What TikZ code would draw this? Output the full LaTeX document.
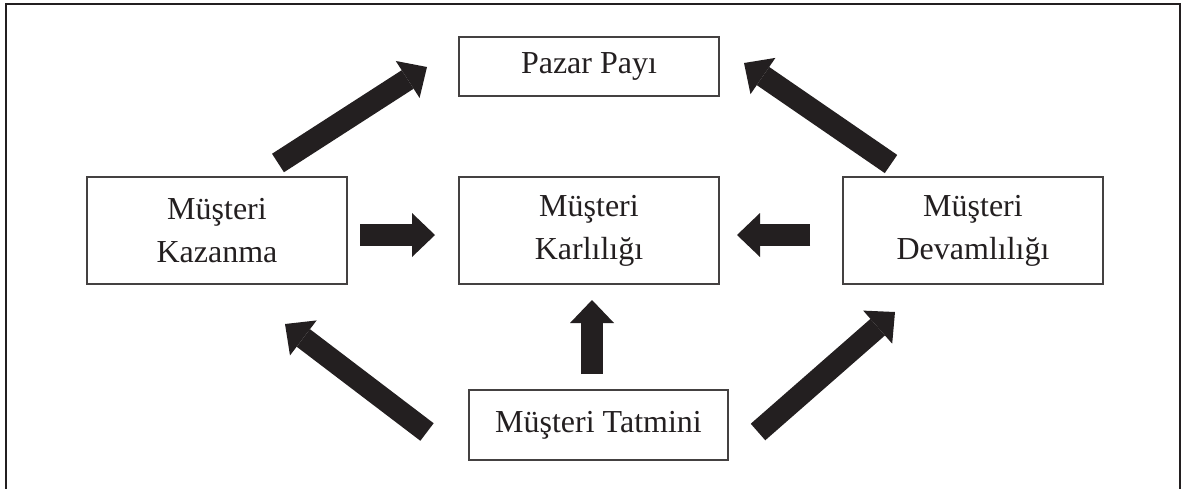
\documentclass[tikz,border=0pt]{standalone}
\usepackage{fontspec}
\setmainfont{Liberation Serif}
\usetikzlibrary{arrows.meta}
\definecolor{ink}{HTML}{231F20}
\begin{document}
\begin{tikzpicture}[x=1pt,y=-1pt,
  box/.style={draw=ink!85, line width=1.4pt, fill=white, inner sep=0pt,
    minimum width=260pt, align=center, text=ink,
    font=\fontsize{32}{43}\selectfont},
  blockarrow/.style={draw=ink, line width=22pt, line cap=butt,
    -{Triangle[length=23pt,width=44pt,line width=0pt]}}]
  \useasboundingbox (0,0) rectangle (1182,488);
  % open frame
  \draw[ink, line width=2.4pt] (6,495) -- (6,4) -- (1180,4) -- (1180,495);

  % boxes
  \node[box, minimum height=59pt]  (pazar)  at (589,66.5)  {Pazar Payı};
  \node[box, minimum height=107pt] (kazan)  at (217,230.5) {Müşteri\\Kazanma};
  \node[box, minimum height=107pt] (karli)  at (589,230.5) {Müşteri\\Karlılığı};
  \node[box, minimum height=107pt] (devam)  at (973,230.5) {Müşteri\\Devamlılığı};
  \node[box, minimum width=259pt, minimum height=70pt] (tatmin) at (598.5,425) {Müşteri Tatmini};

  % arrow end points
  \coordinate (a1s) at (278,163);  \coordinate (a1e) at (427,67);
  \coordinate (a2s) at (891,164);  \coordinate (a2e) at (744,63);
  \coordinate (a3s) at (360,235);  \coordinate (a3e) at (435,235);
  \coordinate (a4s) at (810,235);  \coordinate (a4e) at (737,235);
  \coordinate (a5s) at (592,374);  \coordinate (a5e) at (592,300);
  \coordinate (a6s) at (427,432);  \coordinate (a6e) at (285,324);
  \coordinate (a7s) at (758,432);  \coordinate (a7e) at (895,312);

  % block arrows
  \draw[blockarrow] (a1s) -- (a1e);
  \draw[blockarrow] (a2s) -- (a2e);
  \draw[blockarrow] (a3s) -- (a3e);
  \draw[blockarrow] (a4s) -- (a4e);
  \draw[blockarrow] (a5s) -- (a5e);
  \draw[blockarrow] (a6s) -- (a6e);
  \draw[blockarrow] (a7s) -- (a7e);
\end{tikzpicture}
\end{document}
